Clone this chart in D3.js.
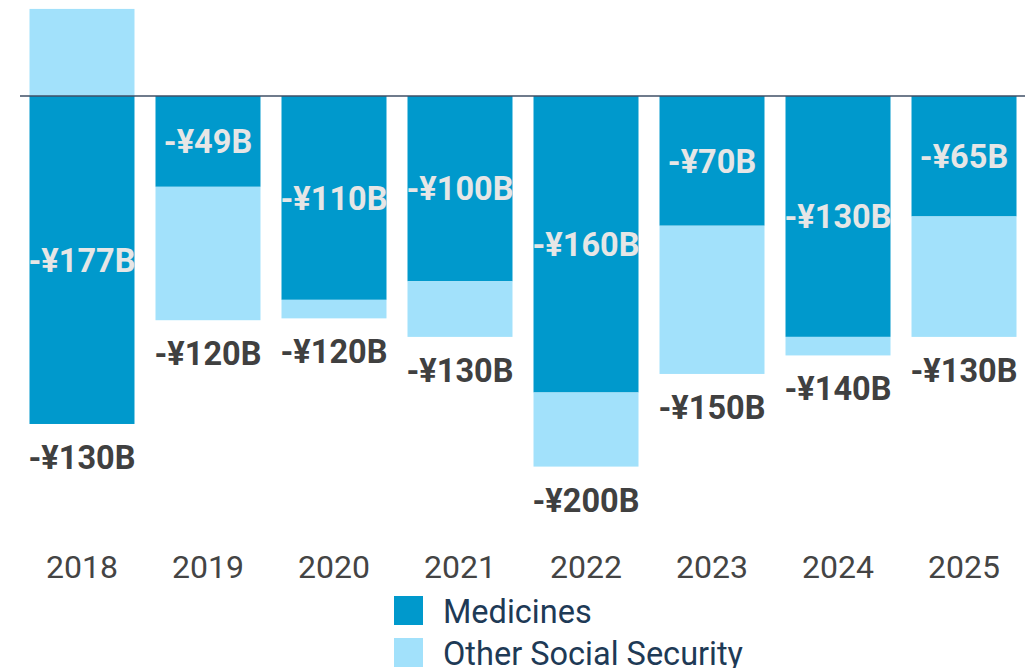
<!DOCTYPE html>
<meta charset="utf-8">
<script src="https://d3js.org/d3.v7.min.js"></script>
<style>
  body { margin: 0; background: #fff; }
  text { font-family: Roboto, "Noto Sans", sans-serif; }
</style>
<body>
<div id="chart"></div>
<script>
// data (billions of yen)
const years = ["2018", "2019", "2020", "2021", "2022", "2023", "2024", "2025"];
const medicines = [-177, -49, -110, -100, -160, -70, -130, -65];
const otherSocial = [47, -72, -10, -30, -40, -80, -10, -65];
const seriesNames = ["Medicines", "Other Social Security"];
const colors = ["#0099cc", "#a2e1fb"];

const width = 1025, height = 668;

const rows = years.map((yr, i) => ({
  year: yr,
  "Medicines": medicines[i],
  "Other Social Security": otherSocial[i]
}));

const svg = d3.select("#chart")
  .append("svg")
    .attr("width", width)
    .attr("height", height);

// x scale, one band per year
const x = d3.scaleBand()
  .domain(years)
  .range([19, 1027])
  .paddingInner(0.1667)
  .paddingOuter(0.0833);

// y scale, zero line at 96
const y = d3.scaleLinear()
  .domain([50, -200])
  .range([3.35, 466.6]);

const stacked = d3.stack()
  .keys(seriesNames)
  .offset(d3.stackOffsetDiverging)(rows);

const fmt = v => (v < 0 ? "-" : "") + "¥" + Math.abs(v) + "B";
// totals are shown rounded to the nearest ten
const fmtTotal = v => fmt(Math.round(v / 10) * 10);

// bars
svg.append("g")
  .selectAll("g")
  .data(stacked)
  .join("g")
    .attr("fill", (d, i) => colors[i])
  .selectAll("rect")
  .data(d => d)
  .join("rect")
    .attr("x", d => x(d.data.year))
    .attr("width", x.bandwidth())
    .attr("y", d => y(d[1]))
    .attr("height", d => y(d[0]) - y(d[1]));

// zero line
svg.append("line")
  .attr("x1", 20)
  .attr("x2", width)
  .attr("y1", y(0))
  .attr("y2", y(0))
  .attr("stroke", "#3f4f66")
  .attr("stroke-width", 1.5);

// medicines labels inside the bars
svg.append("g")
  .selectAll("text")
  .data(stacked[0])
  .join("text")
    .attr("x", d => x(d.data.year) + x.bandwidth() / 2)
    .attr("y", d => (y(d[0]) + y(d[1])) / 2)
    .attr("dy", "0.36em")
    .attr("text-anchor", "middle")
    .attr("font-size", 32.5)
    .attr("font-weight", "bold")
    .attr("fill", "#e6e6e6")
    .text(d => fmt(d.data["Medicines"]));

// total labels under the bars
svg.append("g")
  .selectAll("text")
  .data(rows)
  .join("text")
    .attr("x", d => x(d.year) + x.bandwidth() / 2)
    .attr("y", d => y(Math.min(d["Medicines"], 0) + Math.min(d["Other Social Security"], 0)) + 45)
    .attr("text-anchor", "middle")
    .attr("font-size", 32.5)
    .attr("font-weight", "bold")
    .attr("fill", "#404040")
    .text(d => fmtTotal(d["Medicines"] + d["Other Social Security"]));

// year axis
const xAxis = svg.append("g")
  .attr("transform", "translate(0,555)")
  .call(d3.axisBottom(x).tickSize(0).tickPadding(0));
xAxis.select(".domain").remove();
xAxis.selectAll("text")
  .attr("font-size", 32)
  .attr("font-family", "Roboto, sans-serif")
  .attr("fill", "#444");

// legend
const legend = svg.append("g")
  .selectAll("g")
  .data(seriesNames)
  .join("g")
    .attr("transform", (d, i) => `translate(394,${596 + i * 42})`);
legend.append("rect")
  .attr("width", 29)
  .attr("height", 29)
  .attr("fill", (d, i) => colors[i]);
legend.append("text")
  .attr("x", 49)
  .attr("y", 27)
  .attr("font-size", 32.5)
  .attr("fill", "#1e3a56")
  .text(d => d);
</script>
</body>
